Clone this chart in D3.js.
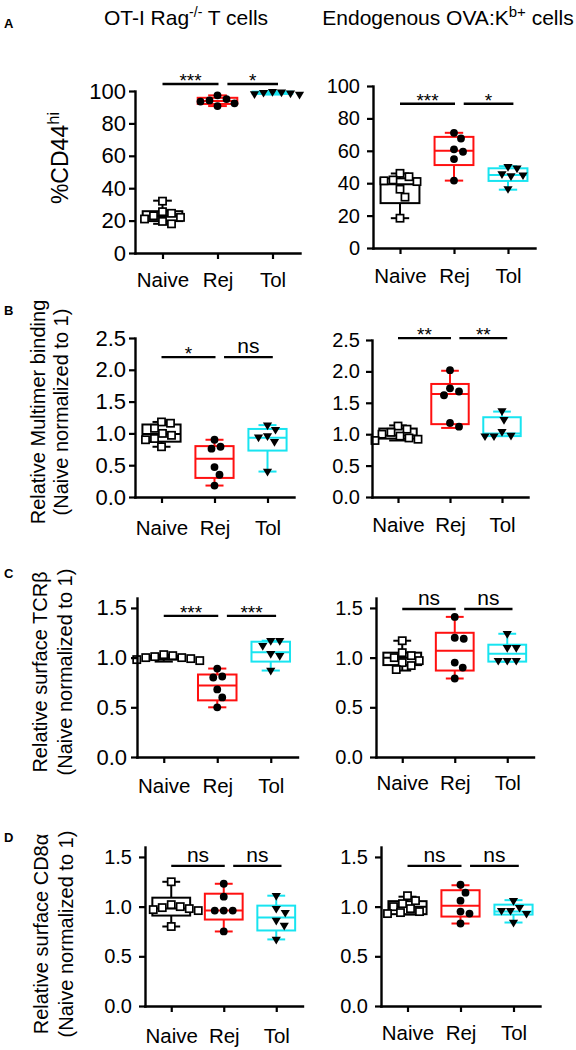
<!DOCTYPE html>
<html><head><meta charset="utf-8">
<script src="https://cdn.jsdelivr.net/npm/d3@7"></script>
<style>
body{margin:0;background:#fff}
text{font-family:"Liberation Sans",Arial,Helvetica,sans-serif;fill:#000}
</style>
</head><body>
<svg id="c" width="576" height="1050"></svg>
<script>
// ---------------- DATA ----------------
const categories = ["Naive", "Rej", "Tol"];

// A: %CD44hi
const a1Points = [[18, 19.5, 21, 22, 23, 24.5, 25.5, 32], [90.7, 92.4, 93.5, 94.2, 95, 97.3], [97.8, 98.2, 98.6, 99, 99.3, 99.6]];
const a1Boxes  = [[18, 19.7, 22.8, 25.8, 32.3], [90.7, 92, 93.8, 95.8, 97.3], [97.8, 98.2, 99, 99.6, 99.8]];
const a2Points = [[18.4, 31.4, 36.3, 41, 41.5, 42, 44, 46.1], [41.6, 54.9, 59.4, 60.9, 67.6, 71.1], [36.5, 44.5, 45, 45.7, 49.2, 50.2]];
const a2Boxes  = [[18.4, 27.7, 39.3, 43, 46], [41.6, 51.2, 60, 68.6, 71.1], [36, 41.4, 45, 49.2, 50.5]];
// B: relative multimer binding
const b1Points = [[0.79, 0.9, 0.92, 0.97, 1.0, 1.08, 1.16, 1.18], [0.18, 0.35, 0.47, 0.76, 0.79, 0.9], [0.4, 0.87, 0.94, 0.96, 1.06, 1.13]];
const b1Boxes  = [[0.79, 0.87, 0.99, 1.14, 1.18], [0.18, 0.3, 0.6, 0.8, 0.9], [0.4, 0.73, 0.93, 1.07, 1.13]];
const b2Points = [[0.9, 0.92, 0.94, 0.97, 1.0, 1.03, 1.08, 1.13], [1.12, 1.18, 1.62, 1.68, 1.73, 2.02], [0.97, 0.97, 0.98, 1.04, 1.23, 1.37]];
const b2Boxes  = [[0.9, 0.93, 0.98, 1.09, 1.14], [1.1, 1.16, 1.64, 1.8, 2.01], [0.97, 0.97, 1.01, 1.27, 1.36]];
// C: relative surface TCRbeta
const c1Points = [[0.97, 0.98, 0.99, 1.0, 1.0, 1.01, 1.02, 1.03], [0.5, 0.6, 0.68, 0.8, 0.81, 0.89], [0.87, 1.02, 1.04, 1.12, 1.17, 1.17]];
const c1Boxes  = [[0.96, 0.98, 1.0, 1.017, 1.03], [0.5, 0.57, 0.72, 0.83, 0.89], [0.87, 0.96, 1.055, 1.16, 1.17]];
const c2Points = [[0.88, 0.92, 0.95, 0.97, 1.0, 1.02, 1.05, 1.17], [0.79, 0.9, 0.95, 1.19, 1.2, 1.41], [0.97, 0.97, 0.97, 1.1, 1.1, 1.24]];
const c2Boxes  = [[0.87, 0.925, 1.0, 1.05, 1.17], [0.79, 0.87, 1.07, 1.25, 1.41], [0.96, 0.96, 1.04, 1.13, 1.24]];
// D: relative surface CD8alpha
const d1Points = [[0.8, 0.96, 0.97, 0.98, 0.99, 1.0, 1.02, 1.25], [0.75, 0.96, 0.96, 0.96, 1.1, 1.23], [0.67, 0.81, 0.86, 0.94, 0.98, 1.11]];
const d1Boxes  = [[0.8, 0.91, 0.98, 1.09, 1.25], [0.75, 0.87, 0.96, 1.13, 1.23], [0.67, 0.76, 0.89, 1.01, 1.11]];
const d2Points = [[0.93, 0.94, 0.95, 0.98, 1.0, 1.03, 1.06, 1.11], [0.83, 0.93, 0.95, 1.06, 1.14, 1.22], [0.84, 0.93, 0.96, 0.96, 0.99, 1.06]];
const d2Boxes  = [[0.92, 0.924, 1.0, 1.055, 1.1], [0.83, 0.9, 1.01, 1.165, 1.215], [0.84, 0.92, 0.95, 1.02, 1.065]];

// significance labels (Naive vs Rej, Rej vs Tol) and bar heights (data units)
const a1Sig = ["***", "*"],  a1SigY = 104.3;
const a2Sig = ["***", "*"],  a2SigY = 89;
const b1Sig = ["*", "ns"],   b1SigY = 2.2;
const b2Sig = ["**", "**"],  b2SigY = 2.53;
const c1Sig = ["***", "***"], c1SigY = 1.42;
const c2Sig = ["ns", "ns"],  c2SigY = 1.49;
const d1Sig = ["ns", "ns"],  d1SigY = 1.41;
const d2Sig = ["ns", "ns"],  d2SigY = 1.41;

// tick labels
const yTicksA = [0, 20, 40, 60, 80, 100];
const yTicksB = [0, 0.5, 1.0, 1.5, 2.0, 2.5];
const yTicksCD = [0, 0.5, 1.0, 1.5];

// ---------------- STYLE / LAYOUT ----------------
const groupColors = ["#000000", "#ff1010", "#18e4f0"];
const shapes = ["square", "circle", "triangle"];
const svg = d3.select("#c");
const FONT = '"Liberation Sans",Arial,Helvetica,sans-serif';

const panels = [
  {pts: a1Points, box: a1Boxes, sig: a1Sig, sigY: a1SigY, x0: 135, x1: 300, y0: 253, yTop: 91, dom: [0, 100], ticks: yTicksA, fmt: d3.format("d"), tf: 22, tp: 3, catOff: 34},
  {pts: a2Points, box: a2Boxes, sig: a2Sig, sigY: a2SigY, x0: 373, x1: 535, y0: 248, yTop: 86, dom: [0, 100], ticks: yTicksA, fmt: d3.format("d"), tf: 20, tp: 7, catOff: 35},
  {pts: b1Points, box: b1Boxes, sig: b1Sig, sigY: b1SigY, x0: 135, x1: 294, y0: 497, yTop: 338, dom: [0, 2.5], ticks: yTicksB, fmt: d3.format(".1f"), tf: 22, tp: 3, catOff: 38},
  {pts: b2Points, box: b2Boxes, sig: b2Sig, sigY: b2SigY, x0: 372, x1: 528, y0: 497, yTop: 340, dom: [0, 2.5], ticks: yTicksB, fmt: d3.format(".1f"), tf: 20, tp: 6, catOff: 35},
  {pts: c1Points, box: c1Boxes, sig: c1Sig, sigY: c1SigY, x0: 137, x1: 297.5, y0: 757, yTop: 598, dom: [0, 1.6], ticks: yTicksCD, fmt: d3.format(".1f"), tf: 22, tp: 4, catOff: 36},
  {pts: c2Points, box: c2Boxes, sig: c2Sig, sigY: c2SigY, x0: 376, x1: 533.5, y0: 757, yTop: 598, dom: [0, 1.6], ticks: yTicksCD, fmt: d3.format(".1f"), tf: 20, tp: 7, catOff: 33},
  {pts: d1Points, box: d1Boxes, sig: d1Sig, sigY: d1SigY, x0: 145, x1: 302.5, y0: 1006, yTop: 847, dom: [0, 1.6], ticks: yTicksCD, fmt: d3.format(".1f"), tf: 20, tp: 7, catOff: 37},
  {pts: d2Points, box: d2Boxes, sig: d2Sig, sigY: d2SigY, x0: 381, x1: 540, y0: 1006, yTop: 847, dom: [0, 1.6], ticks: yTicksCD, fmt: d3.format(".1f"), tf: 20, tp: 7, catOff: 34}
];

function swarm(vals, y, d) {
  const order = vals.map((v, i) => ({v, i, py: y(v)})).sort((a, b) => a.py - b.py);
  const placed = [];
  order.forEach(p => {
    for (let k = 0; k < 200; k++) {
      const off = k === 0 ? 0 : (k % 2 ? 1 : -1) * Math.ceil(k / 2);
      const ok = placed.every(q => Math.hypot(q.off - off, q.py - p.py) >= d);
      if (ok) { p.off = off; break; }
    }
    placed.push(p);
  });
  return placed;
}

function drawMarker(g, shape, cx, cy) {
  if (shape === "circle") {
    g.append("circle").attr("cx", cx).attr("cy", cy).attr("r", 3.9).attr("fill", "#000");
  } else if (shape === "square") {
    g.append("rect").attr("x", cx - 3.6).attr("y", cy - 3.6).attr("width", 7.2).attr("height", 7.2)
      .attr("fill", "#fff").attr("stroke", "#000").attr("stroke-width", 1.7);
  } else {
    g.append("path").attr("d", `M${cx - 4.6},${cy - 2.7}L${cx + 4.6},${cy - 2.7}L${cx},${cy + 5}Z`).attr("fill", "#000");
  }
}

panels.forEach(p => {
  const g = svg.append("g");
  const x = d3.scalePoint().domain(categories).range([p.x0, p.x1]).padding(0.5);
  const y = d3.scaleLinear().domain(p.dom).range([p.y0, p.yTop]);
  const step = x.step();

  // boxes
  p.box.forEach((b, i) => {
    const cx = x(categories[i]), col = groupColors[i];
    const bw = step * 0.72, cw = step * 0.34;
    const bg = g.append("g").attr("stroke", col).attr("stroke-width", 2).attr("fill", "none");
    bg.append("line").attr("x1", cx).attr("x2", cx).attr("y1", y(b[3])).attr("y2", y(b[4]));
    bg.append("line").attr("x1", cx).attr("x2", cx).attr("y1", y(b[1])).attr("y2", y(b[0]));
    bg.append("line").attr("x1", cx - cw / 2).attr("x2", cx + cw / 2).attr("y1", y(b[4])).attr("y2", y(b[4]));
    bg.append("line").attr("x1", cx - cw / 2).attr("x2", cx + cw / 2).attr("y1", y(b[0])).attr("y2", y(b[0]));
    bg.append("rect").attr("x", cx - bw / 2).attr("y", y(b[3])).attr("width", bw).attr("height", y(b[1]) - y(b[3])).attr("fill", "#fff");
    bg.append("line").attr("x1", cx - bw / 2).attr("x2", cx + bw / 2).attr("y1", y(b[2])).attr("y2", y(b[2]));
  });

  // points
  p.pts.forEach((vals, i) => {
    const cx = x(categories[i]);
    swarm(vals, y, 9).forEach(q => drawMarker(g, shapes[i], cx + q.off, q.py));
  });

  // axes
  const ya = g.append("g").attr("transform", `translate(${p.x0},0)`)
    .call(d3.axisLeft(y).tickValues(p.ticks).tickFormat(p.fmt).tickSize(6).tickSizeOuter(0).tickPadding(p.tp));
  ya.selectAll("text").attr("font-size", p.tf).attr("font-family", FONT);
  const catFont = 20.5;
  const xa = g.append("g").attr("transform", `translate(0,${p.y0})`)
    .call(d3.axisBottom(x).tickSize(6).tickSizeOuter(0).tickPadding(p.catOff - 6 - 0.71 * catFont));
  xa.selectAll("text").attr("font-size", catFont).attr("font-family", FONT);
  [ya, xa].forEach(a => {
    a.attr("font-family", FONT);
    a.select(".domain").attr("stroke-width", 2.4).attr("stroke-linecap", "square");
    a.selectAll(".tick line").attr("stroke-width", 2.2);
  });

  // significance
  const sy = y(p.sigY);
  const segs = [[x("Naive"), x("Rej") + 1], [x("Rej") + 0.18 * step, x("Tol") + 0.1 * step]];
  segs.forEach((s, k) => {
    g.append("line").attr("x1", s[0]).attr("x2", s[1]).attr("y1", sy).attr("y2", sy)
      .attr("stroke", "#000").attr("stroke-width", 2.4);
    const lab = p.sig[k];
    const isNs = lab === "ns";
    g.append("text").attr("x", (s[0] + s[1]) / 2).attr("y", isNs ? sy - 4 : sy + 3)
      .attr("text-anchor", "middle").attr("font-size", isNs ? 21 : 19).text(lab);
  });
});

// titles
const t1 = svg.append("text").attr("x", 186).attr("y", 25).attr("text-anchor", "middle").attr("font-size", 21);
t1.append("tspan").text("OT-I Rag");
t1.append("tspan").attr("dy", -8).attr("font-size", 14).text("-/-");
t1.append("tspan").attr("dy", 8).text(" T cells");
const t2 = svg.append("text").attr("x", 448).attr("y", 25).attr("text-anchor", "middle").attr("font-size", 21);
t2.append("tspan").text("Endogenous OVA:K");
t2.append("tspan").attr("dy", -8).attr("font-size", 15).text("b+");
t2.append("tspan").attr("dy", 8).text(" cells");

// panel letters
[["A", 28], ["B", 315], ["C", 578], ["D", 842]].forEach(([l, yy]) => {
  svg.append("text").attr("x", 4).attr("y", yy).attr("font-size", 13).attr("font-weight", "bold").text(l);
});

// y axis labels (left column)
function ylab(cx, cy, lines, fs) {
  lines.forEach(([bx, parts]) => {
    const t = svg.append("text").attr("transform", `translate(${bx},${cy}) rotate(-90)`)
      .attr("text-anchor", "middle").attr("font-size", fs);
    parts.forEach(pt => {
      const ts = t.append("tspan").text(pt.t);
      if (pt.sup) ts.attr("dy", -9).attr("font-size", fs * 0.72);
    });
  });
}
ylab(0, 158, [[68, [{t: "%CD44"}, {t: "hi", sup: true}]]], 23);
ylab(0, 412, [[45, [{t: "Relative Multimer binding"}]], [68, [{t: "(Naive normalized to 1)"}]]], 20);
ylab(0, 672, [[47, [{t: "Relative surface TCRβ"}]], [72, [{t: "(Naive normalized to 1)"}]]], 20);
ylab(0, 934, [[48, [{t: "Relative surface CD8α"}]], [73, [{t: "(Naive normalized to 1)"}]]], 20);
</script>
</body></html>
